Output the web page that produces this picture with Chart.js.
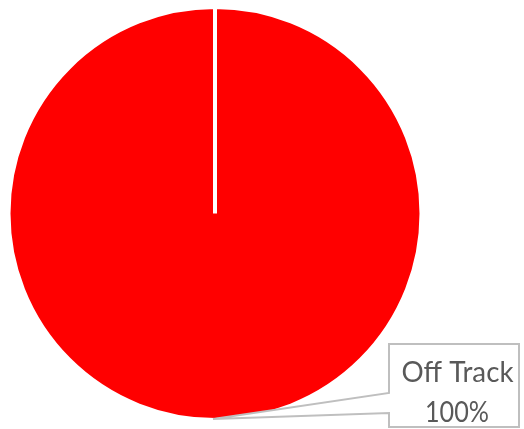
<!DOCTYPE html>
<html><head><meta charset="utf-8">
<script src="https://cdn.jsdelivr.net/npm/chart.js@4.4.0/dist/chart.umd.min.js"></script>
<style>html,body{margin:0;padding:0;background:#fff;}#wrap{width:524px;height:429px;}</style>
</head><body><div id="wrap"><canvas id="c" width="524" height="429"></canvas></div>
<script>
const categories = ["Off Track"];
const values = [100];
const colors = ["#FF0000"];

const calloutPlugin = {
  id: 'callout',
  afterDraw(chart) {
    const ctx = chart.ctx;
    const arc = chart.getDatasetMeta(0).data[0];
    const total = values.reduce((a, b) => a + b, 0);
    const pct = Math.round(values[0] / total * 100) + '%';
    const tipX = arc.x - 2, tipY = arc.y + arc.outerRadius - 1;
    const L = 389, T = 344, R = 519, B = 427;
    ctx.save();
    ctx.beginPath();
    ctx.moveTo(L, T); ctx.lineTo(R, T); ctx.lineTo(R, B); ctx.lineTo(L, B);
    ctx.lineTo(L, 413); ctx.lineTo(tipX, tipY); ctx.lineTo(L, 393); ctx.closePath();
    ctx.fillStyle = '#FFFFFF'; ctx.fill();
    ctx.strokeStyle = '#BFBFBF'; ctx.lineWidth = 2; ctx.stroke();
    ctx.fillStyle = '#595959';
    ctx.font = '29px Lato, "Open Sans", sans-serif';
    ctx.textAlign = 'center'; ctx.textBaseline = 'alphabetic';
    ctx.fillText(categories[0], 457.5, 382, 112);
    ctx.fillText(pct, 457, 422, 64);
    ctx.restore();
  }
};

new Chart(document.getElementById('c'), {
  type: 'pie',
  data: {
    labels: categories,
    datasets: [{ data: values, backgroundColor: colors, borderColor: '#FFFFFF', borderWidth: 4 }]
  },
  options: {
    responsive: false,
    animation: false,
    layout: { padding: { left: 6.5, top: 5, right: 100.5, bottom: 7 } },
    plugins: { legend: { display: false }, tooltip: { enabled: false } }
  },
  plugins: [calloutPlugin]
});
</script></body></html>
